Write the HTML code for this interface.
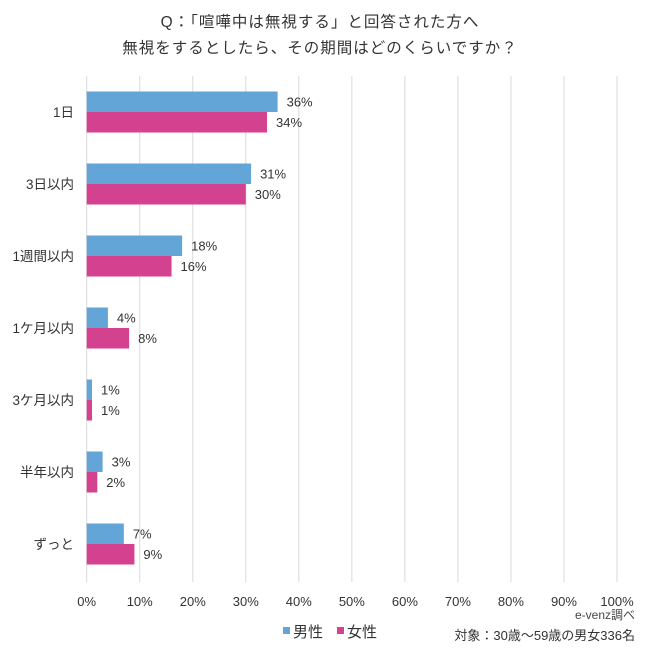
<!DOCTYPE html>
<html><head><meta charset="utf-8"><style>
body{margin:0;background:#fff;}
svg text{font-family:"Liberation Sans","Noto Sans CJK JP",sans-serif;}
</style></head><body>
<svg width="650" height="650" xmlns="http://www.w3.org/2000/svg">
<text x="320" y="27" font-size="15.5" letter-spacing="1" fill="#333" text-anchor="middle">Q：「喧嘩中は無視する」と回答された方へ</text>
<text x="320" y="53" font-size="15.5" letter-spacing="1" fill="#333" text-anchor="middle">無視をするとしたら、その期間はどのくらいですか？</text>
<g id="grid"></g><g id="bars"></g><g id="labels"></g>
<text x="635" y="619" font-size="12" fill="#444" text-anchor="end">e-venz調べ</text>
<text x="635" y="640" font-size="13" fill="#333" text-anchor="end">対象：30歳〜59歳の男女336名</text>
<rect x="283" y="627" width="7" height="7" fill="#64a5d8"/>
<text x="293" y="637" font-size="15" fill="#333">男性</text>
<rect x="337" y="627" width="7" height="7" fill="#d4418e"/>
<text x="347" y="637" font-size="15" fill="#333">女性</text>
</svg>
<script>
const categories=["1日","3日以内","1週間以内","1ケ月以内","3ケ月以内","半年以内","ずっと"];
const male=[36,31,18,4,1,3,7];
const female=[34,30,16,8,1,2,9];
const ticks=[0,10,20,30,40,50,60,70,80,90,100];
const NS="http://www.w3.org/2000/svg";
const x=v=>86.7+v*5.303;
const cy=i=>112+i*72;
function mk(t,a,p){const e=document.createElementNS(NS,t);for(const k in a)e.setAttribute(k,a[k]);p.appendChild(e);return e;}
const g=document.getElementById('grid'),b=document.getElementById('bars'),l=document.getElementById('labels');
ticks.forEach(t=>{
 const ln=mk('line',{x1:x(t),x2:x(t),y1:76,y2:582,stroke:'#d9d9d9','stroke-width':1},g);
 
 
 const tx=mk('text',{x:x(t),y:606,'font-size':13,fill:'#333','text-anchor':'middle'},g);
 tx.textContent=t+'%';
 
 
});
categories.forEach((c,i)=>{
 const ct=mk('text',{x:74,y:cy(i)+5,'font-size':13.5,fill:'#333','text-anchor':'end'},l);
 ct.textContent=c;
 
 
 [[male,'#64a5d8',-20.5,'male'],[female,'#d4418e',0,'female']].forEach(([arr,col,off,n])=>{
  const r=mk('rect',{x:x(0),y:cy(i)+off,width:x(arr[i])-x(0),height:20.5,fill:col},b);
  
  
  const t=mk('text',{x:x(arr[i])+9,y:cy(i)+off+15,'font-size':13,fill:'#333'},l);
  t.textContent=arr[i]+'%';
  
  
 });
});
</script>
</body></html>
